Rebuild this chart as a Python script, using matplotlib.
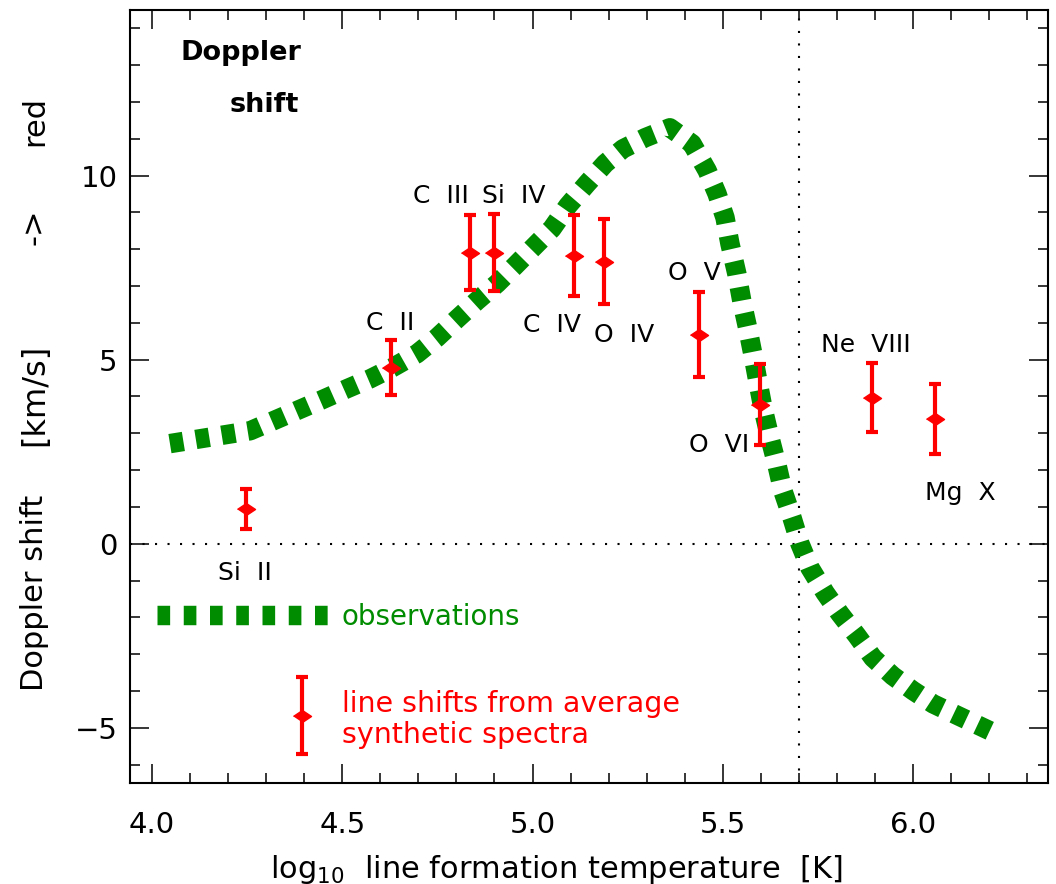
import numpy as np
import matplotlib.pyplot as plt
from matplotlib.ticker import MultipleLocator, FormatStrFormatter

# synthetic line shifts (red error bars)
ions = ['Si  II', 'C  II', 'C  III', 'Si  IV', 'C  IV', 'O  IV', 'O  V', 'O  VI', 'Ne  VIII', 'Mg  X']
log_t = [4.247, 4.628, 4.836, 4.899, 5.109, 5.188, 5.438, 5.598, 5.892, 6.058]
shift = [0.95, 4.78, 7.91, 7.91, 7.83, 7.66, 5.68, 3.78, 3.97, 3.40]
shift_err = [0.55, 0.75, 1.01, 1.04, 1.11, 1.16, 1.16, 1.11, 0.94, 0.95]

# observed Doppler shift curve (green dashed)
obs_t = [4.047, 4.258, 4.442, 4.512, 4.573, 4.631, 4.696, 4.749, 4.802, 4.854,
         4.907, 4.954, 5.001, 5.051, 5.093, 5.143, 5.191, 5.238, 5.296, 5.361,
         5.419, 5.459, 5.485, 5.506, 5.519, 5.537, 5.551, 5.566, 5.580, 5.593,
         5.606, 5.624, 5.643, 5.658, 5.682, 5.703, 5.729, 5.769, 5.808, 5.853,
         5.895, 5.947, 6.000, 6.053, 6.118, 6.202]
obs_shift = [2.72, 3.07, 3.89, 4.21, 4.48, 4.78, 5.16, 5.60, 6.11, 6.60,
             7.07, 7.55, 8.04, 8.56, 9.18, 9.78, 10.33, 10.73, 11.03, 11.30,
             10.87, 10.14, 9.51, 8.86, 8.15, 7.34, 6.55, 5.84, 5.11, 4.38,
             3.67, 2.88, 2.12, 1.44, 0.71, 0.00, -0.65, -1.33, -1.90, -2.50,
             -3.10, -3.59, -3.99, -4.35, -4.67, -5.08]

# where the ion names sit (centre x, baseline y)
label_pos = [(4.244, -0.98), (4.627, 5.82), (4.759, 9.27), (4.951, 9.27),
             (5.052, 5.76), (5.240, 5.49), (5.426, 7.17), (5.490, 2.50),
             (5.877, 5.22), (6.124, 1.20)]

green = '#008c00'
red = '#ff0000'
diamond = [(-1.5, 0), (0, 1), (1.5, 0), (0, -1)]

fig = plt.figure(figsize=(10.56, 8.84), dpi=100)
ax = fig.add_axes([130 / 1056, 1 - 783 / 884, 918 / 1056, 773 / 884])

# reference lines
ax.axhline(0, color='black', lw=1.5, ls=(0, (1, 5)))
ax.axvline(5.70, color='black', lw=1.5, ls=(0, (1, 5)))

# observations
ax.plot(obs_t, obs_shift, color=green, lw=14, dashes=(0.7, 0.65),
        dash_capstyle='butt', solid_capstyle='butt')

# synthetic spectra
ax.errorbar(log_t, shift, yerr=shift_err, fmt='none', ecolor=red,
            elinewidth=3, capsize=4, capthick=3)
ax.plot(log_t, shift, ls='none', marker=diamond, ms=13, color=red)

for name, (lx, ly) in zip(ions, label_pos):
    ax.text(lx, ly, name, ha='center', va='baseline', fontsize=18)

# legend drawn by hand
ax.plot([4.013, 4.478], [-1.93, -1.93], color=green, lw=14,
        dashes=(0.65, 0.7), dash_capstyle='butt')
ax.text(4.497, -2.20, 'observations', color=green, fontsize=20, va='baseline')
ax.errorbar([4.393], [-4.67], yerr=[1.04], fmt='none', ecolor=red,
            elinewidth=3, capsize=4, capthick=3)
ax.plot([4.393], [-4.67], ls='none', marker=diamond, ms=13, color=red)
ax.text(4.499, -4.57, 'line shifts from average', color=red, fontsize=20.5, va='baseline')
ax.text(4.499, -5.41, 'synthetic spectra', color=red, fontsize=20.5, va='baseline')

ax.text(0.0545, 0.935, 'Doppler', transform=ax.transAxes, fontsize=19.5,
        fontweight='bold', va='baseline')
ax.text(0.109, 0.868, 'shift', transform=ax.transAxes, fontsize=19.5,
        fontweight='bold', va='baseline')

ax.set_xlim(3.942, 6.355)
ax.set_ylim(-6.5, 14.5)
ax.xaxis.set_major_locator(MultipleLocator(0.5))
ax.xaxis.set_minor_locator(MultipleLocator(0.1))
ax.xaxis.set_major_formatter(FormatStrFormatter('%.1f'))
ax.yaxis.set_major_locator(MultipleLocator(5))
ax.yaxis.set_minor_locator(MultipleLocator(1))
ax.tick_params(which='both', direction='in', top=True, right=True, width=1.1)
ax.tick_params(which='major', length=14)
ax.tick_params(which='minor', length=7)
ax.tick_params(axis='x', which='major', labelsize=21, pad=20)
ax.tick_params(axis='y', which='major', labelsize=21, pad=9)
for s in ax.spines.values():
    s.set_linewidth(1.5)

# axis titles
fig.text(0.527, 1 - 878 / 884, r'log$_{10}$  line formation temperature  [K]',
         ha='center', va='baseline', fontsize=22)
fig.text(0.033, 0.3298, 'Doppler shift', rotation=90, ha='center', va='center', fontsize=22)
fig.text(0.033, 0.5532, '[km/s]', rotation=90, ha='center', va='center', fontsize=23)
fig.text(0.033, 0.743, '->', rotation=90, ha='center', va='center', fontsize=22)
fig.text(0.033, 0.863, 'red', rotation=90, ha='center', va='center', fontsize=22)

fig.savefig('out.png', dpi=100)
